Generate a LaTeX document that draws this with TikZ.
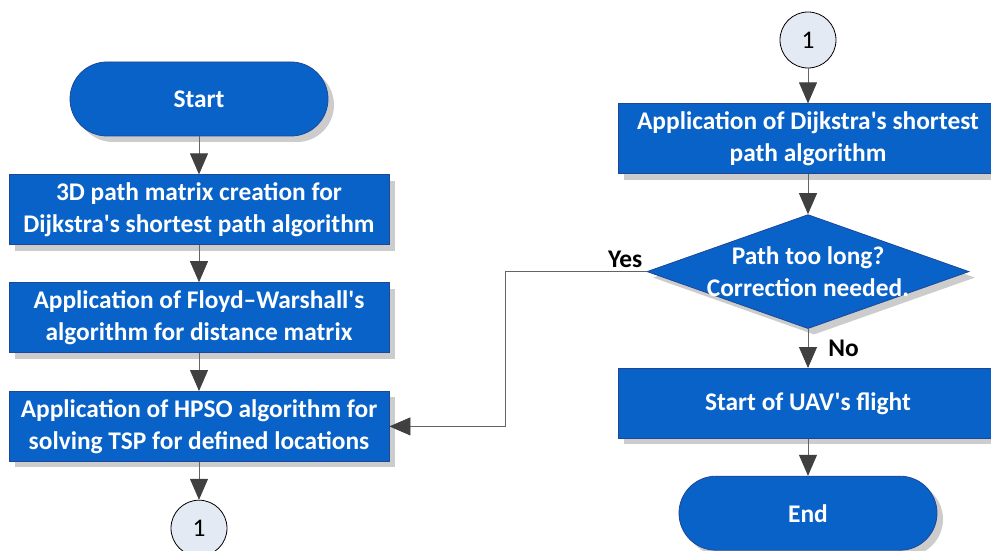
\documentclass[tikz,border=0pt]{standalone}
\usepackage{fontspec}
\setmainfont{Carlito}[Ligatures=TeXOff]
\usetikzlibrary{arrows.meta,positioning,shapes.geometric,shadows}
\definecolor{flowblue}{RGB}{8, 98,200}
\definecolor{flowedge}{RGB}{30, 72,150}
\definecolor{conbg}   {RGB}{228,234,244}
\definecolor{tipdark} {RGB}{64, 64, 64}
\definecolor{linegray}{RGB}{100,100,100}
\tikzset{
  box/.style={draw=flowedge,fill=flowblue,minimum width=190pt,minimum height=35pt,
              inner sep=1pt,align=center,text=white,
              font=\fontsize{12.7}{16}\selectfont\bfseries,
              drop shadow={shadow xshift=3pt,shadow yshift=-3pt,
              fill=black,opacity=0.2}},
  term/.style={box,rounded corners=18.5pt,minimum width=129pt,minimum height=37pt},
  decision/.style={box,diamond,aspect=2.8,inner sep=-5pt,
                   minimum width=161pt,minimum height=57pt},
  con/.style={circle,draw=black,fill=conbg,minimum size=28pt,inner sep=0pt,
              font=\fontsize{12.7}{14}\selectfont},
  arr/.style={-{Triangle[length=10.5pt,width=9pt,color=tipdark]},draw=linegray,thin},
  lbl/.style={font=\fontsize{12.7}{14}\selectfont\bfseries,inner sep=2pt},
}

\begin{document}
\begin{tikzpicture}[node distance=19pt]
  \useasboundingbox (0,0) rectangle (495.5pt,-275.5pt);
  % left column
  \node[term] (start) at (99.5pt,-49.5pt) {Start};
  \node[box,below=of start] (mat) {3D path matrix creation for\\Dijkstra's shortest path algorithm};
  \node[box,below=18.5pt of mat] (floyd) {Application of Floyd–Warshall's\\algorithm for distance matrix};
  \node[box,below=of floyd] (hpso) {Application of HPSO algorithm for\\solving TSP for defined locations};
  \node[con,below=of hpso] (conA) {1};
  % right column
  \node[con] (conB) at (404pt,-20pt) {1};
  \node[box,below=17.5pt of conB] (dijk) {Application of Dijkstra's shortest\\path algorithm};
  \node[decision,below=20pt of dijk] (dec) {Path too long?\\Correction needed.};
  \node[box,below=19.5pt of dec] (flight) {Start of UAV's flight};
  \node[term,below=18.5pt of flight] (stop) {End};
  \coordinate (turn) at (252.5pt,0);

  \draw[arr] (start) -- (mat);
  \draw[arr] (mat) -- (floyd);
  \draw[arr] (floyd) -- (hpso);
  \draw[arr] (hpso) -- (conA);
  \draw[arr] (conB) -- (dijk);
  \draw[arr] (dijk) -- (dec);
  \draw[arr] (dec.west) -- node[lbl,pos=0,above left]{Yes} (dec.west -| turn) |- (hpso.east);
  \draw[arr] (dec) -- node[lbl,right,xshift=8pt]{No} (flight);
  \draw[arr] (flight) -- (stop);
\end{tikzpicture}
\end{document}
